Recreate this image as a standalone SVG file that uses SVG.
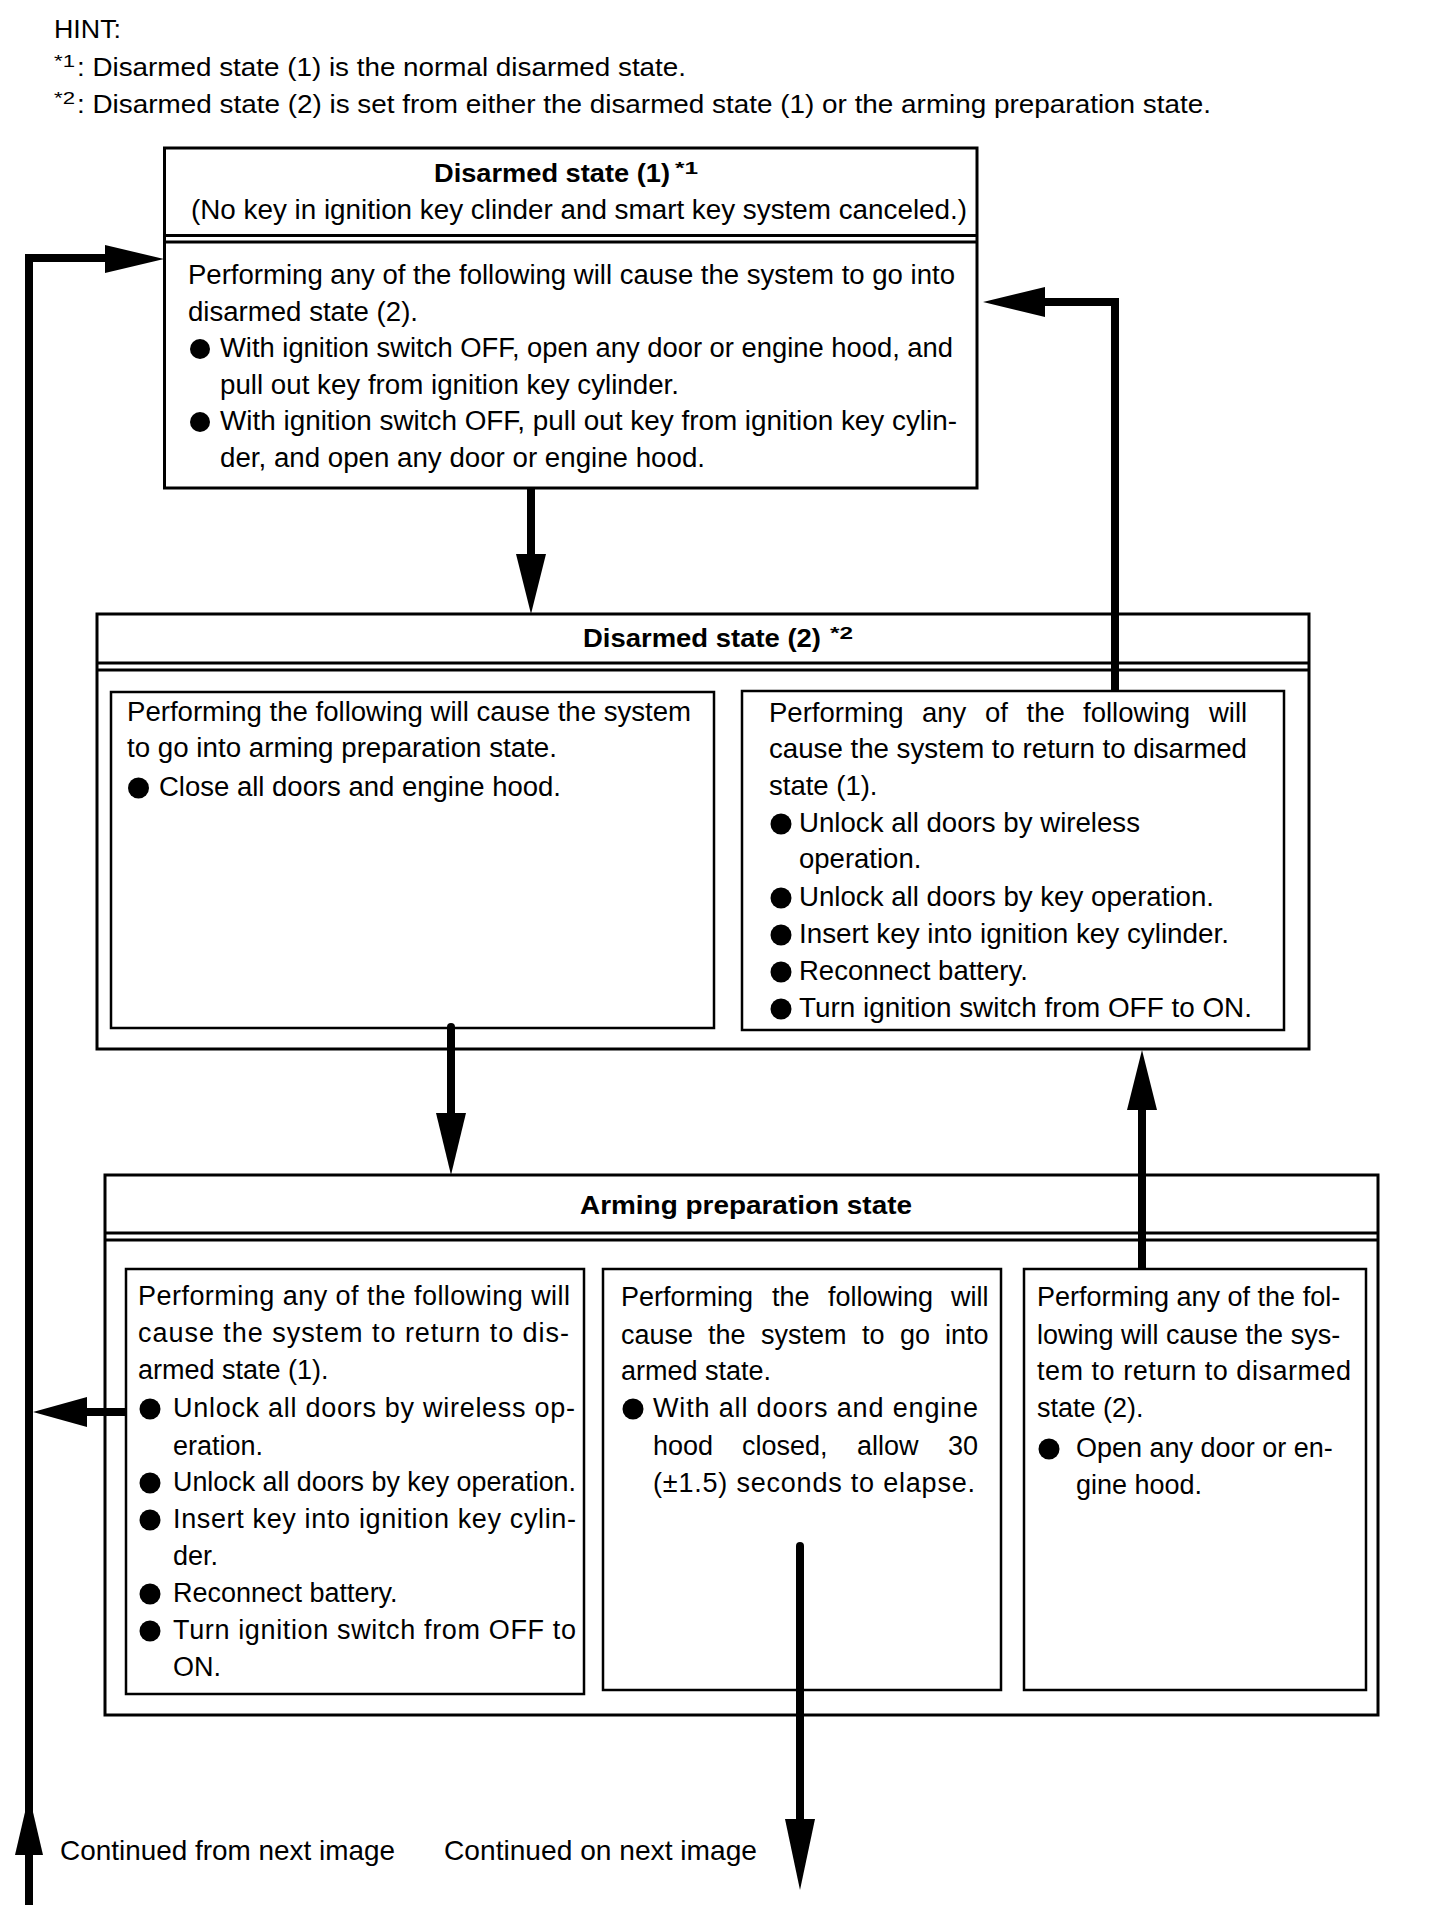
<svg xmlns="http://www.w3.org/2000/svg" width="1440" height="1928" viewBox="0 0 1440 1928">
<style>
text { font-family: "Liberation Sans", Arial, Helvetica, sans-serif; fill: #000; }
.t { font-size: 27px; }
.t2 { font-size: 27.5px; }
.h { font-size: 26px; }
.s { font-size: 17px; }
.ti { font-size: 26px; font-weight: bold; }
.ts { font-size: 16px; font-weight: bold; }
.c { font-size: 28px; }
.box { fill: none; stroke: #000; stroke-width: 3; }
.ib { fill: none; stroke: #000; stroke-width: 2.5; }
.dl { stroke: #000; stroke-width: 3; }
.ln { fill: none; stroke: #000; stroke-width: 8; stroke-linejoin: miter; }
.ah { fill: #000; stroke: none; }
.bu { fill: #000; }
</style>
<rect x="0" y="0" width="1440" height="1928" fill="#fff"/>

<g id="hint">
  <text class="h" x="54" y="38" textLength="67" lengthAdjust="spacingAndGlyphs">HINT:</text>
  <text class="s" x="54" y="67" textLength="21" lengthAdjust="spacingAndGlyphs">*1</text>
  <text class="h" x="77" y="76" textLength="609" lengthAdjust="spacingAndGlyphs">: Disarmed state (1) is the normal disarmed state.</text>
  <text class="s" x="54" y="104" textLength="21" lengthAdjust="spacingAndGlyphs">*2</text>
  <text class="h" x="77" y="113" textLength="1134" lengthAdjust="spacingAndGlyphs">: Disarmed state (2) is set from either the disarmed state (1) or the arming preparation state.</text>
</g>

<g id="disarmed1">
  <rect class="box" x="164.5" y="148" width="812.5" height="340"/>
  <text class="ti" x="434" y="182" textLength="236" lengthAdjust="spacingAndGlyphs">Disarmed state (1)</text>
  <text class="ts" x="675" y="174" textLength="23" lengthAdjust="spacingAndGlyphs">*1</text>
  <text class="t" x="191" y="219" textLength="776" lengthAdjust="spacingAndGlyphs">(No key in ignition key clinder and smart key system canceled.)</text>
  <line class="dl" x1="164.5" y1="235.5" x2="977" y2="235.5"/>
  <line class="dl" x1="164.5" y1="242" x2="977" y2="242"/>
  <text class="t" x="188" y="284" textLength="767" lengthAdjust="spacingAndGlyphs">Performing any of the following will cause the system to go into</text>
  <text class="t" x="188" y="321" textLength="230" lengthAdjust="spacingAndGlyphs">disarmed state (2).</text>
  <circle class="bu" cx="200" cy="349" r="10"/>
  <text class="t" x="220" y="357" textLength="733" lengthAdjust="spacingAndGlyphs">With ignition switch OFF, open any door or engine hood, and</text>
  <text class="t" x="220" y="394" textLength="459" lengthAdjust="spacingAndGlyphs">pull out key from ignition key cylinder.</text>
  <circle class="bu" cx="200" cy="422" r="10"/>
  <text class="t" x="220" y="430" textLength="737" lengthAdjust="spacingAndGlyphs">With ignition switch OFF, pull out key from ignition key cylin-</text>
  <text class="t" x="220" y="467" textLength="485" lengthAdjust="spacingAndGlyphs">der, and open any door or engine hood.</text>
</g>

<g id="disarmed2">
  <rect class="box" x="97" y="614" width="1212" height="435"/>
  <text class="ti" x="583" y="647" textLength="238" lengthAdjust="spacingAndGlyphs">Disarmed state (2)</text>
  <text class="ts" x="830" y="639" textLength="23" lengthAdjust="spacingAndGlyphs">*2</text>
  <line class="dl" x1="97" y1="663" x2="1309" y2="663"/>
  <line class="dl" x1="97" y1="670" x2="1309" y2="670"/>
</g>

<g id="disarmed2-left">
  <rect class="ib" x="111" y="692" width="603" height="336"/>
  <text class="t" x="127" y="721" textLength="564" lengthAdjust="spacingAndGlyphs">Performing the following will cause the system</text>
  <text class="t" x="127" y="757" textLength="430" lengthAdjust="spacingAndGlyphs">to go into arming preparation state.</text>
  <circle class="bu" cx="138.5" cy="788" r="10.5"/>
  <text class="t" x="159" y="796" textLength="402" lengthAdjust="spacingAndGlyphs">Close all doors and engine hood.</text>
</g>

<g id="disarmed2-right">
  <rect class="ib" x="742" y="691" width="542" height="339"/>
  <text class="t2" y="722"><tspan x="769">Performing</tspan><tspan x="922">any</tspan><tspan x="985">of</tspan><tspan x="1026.5">the</tspan><tspan x="1083">following</tspan><tspan x="1209">will</tspan></text>
  <text class="t2" x="769" y="758" textLength="478" lengthAdjust="spacingAndGlyphs">cause the system to return to disarmed</text>
  <text class="t2" x="769" y="795">state (1).</text>
  <circle class="bu" cx="781" cy="824" r="10.5"/>
  <text class="t2" x="799" y="832" textLength="341" lengthAdjust="spacingAndGlyphs">Unlock all doors by wireless</text>
  <text class="t2" x="799" y="868">operation.</text>
  <circle class="bu" cx="781" cy="898" r="10.5"/>
  <text class="t2" x="799" y="906" textLength="415" lengthAdjust="spacingAndGlyphs">Unlock all doors by key operation.</text>
  <circle class="bu" cx="781" cy="935" r="10.5"/>
  <text class="t2" x="799" y="943" textLength="430" lengthAdjust="spacingAndGlyphs">Insert key into ignition key cylinder.</text>
  <circle class="bu" cx="781" cy="972" r="10.5"/>
  <text class="t2" x="799" y="980">Reconnect battery.</text>
  <circle class="bu" cx="781" cy="1009" r="10.5"/>
  <text class="t2" x="799" y="1017" textLength="453" lengthAdjust="spacingAndGlyphs">Turn ignition switch from OFF to ON.</text>
</g>

<g id="arming">
  <rect class="box" x="105" y="1175" width="1273" height="540"/>
  <text class="ti" x="580" y="1214" textLength="332" lengthAdjust="spacingAndGlyphs">Arming preparation state</text>
  <line class="dl" x1="105" y1="1233" x2="1378" y2="1233"/>
  <line class="dl" x1="105" y1="1240" x2="1378" y2="1240"/>
</g>

<g id="arming-left">
  <rect class="ib" x="126" y="1269" width="458" height="425"/>
  <text class="t" x="138" y="1305" textLength="432" lengthAdjust="spacing">Performing any of the following will</text>
  <text class="t" x="138" y="1342" textLength="431" lengthAdjust="spacing">cause the system to return to dis-</text>
  <text class="t" x="138" y="1379">armed state (1).</text>
  <circle class="bu" cx="150" cy="1409" r="10.5"/>
  <text class="t" x="173" y="1417" textLength="402" lengthAdjust="spacing">Unlock all doors by wireless op-</text>
  <text class="t" x="173" y="1455">eration.</text>
  <circle class="bu" cx="150" cy="1483" r="10.5"/>
  <text class="t" x="173" y="1491" textLength="403" lengthAdjust="spacingAndGlyphs">Unlock all doors by key operation.</text>
  <circle class="bu" cx="150" cy="1520" r="10.5"/>
  <text class="t" x="173" y="1528" textLength="403" lengthAdjust="spacing">Insert key into ignition key cylin-</text>
  <text class="t" x="173" y="1565">der.</text>
  <circle class="bu" cx="150" cy="1594" r="10.5"/>
  <text class="t" x="173" y="1602">Reconnect battery.</text>
  <circle class="bu" cx="150" cy="1631" r="10.5"/>
  <text class="t" x="173" y="1639" textLength="403" lengthAdjust="spacing">Turn ignition switch from OFF to</text>
  <text class="t" x="173" y="1676">ON.</text>
</g>

<g id="arming-middle">
  <rect class="ib" x="603" y="1269" width="398" height="421"/>
  <text class="t" y="1306"><tspan x="621">Performing</tspan><tspan x="772">the</tspan><tspan x="828">following</tspan><tspan x="951">will</tspan></text>
  <text class="t" y="1344"><tspan x="621">cause</tspan><tspan x="708">the</tspan><tspan x="761">system</tspan><tspan x="862">to</tspan><tspan x="900">go</tspan><tspan x="945">into</tspan></text>
  <text class="t" x="621" y="1380">armed state.</text>
  <circle class="bu" cx="633" cy="1409" r="10.5"/>
  <text class="t" x="653" y="1417" textLength="325" lengthAdjust="spacing">With all doors and engine</text>
  <text class="t" y="1455"><tspan x="653">hood</tspan><tspan x="742">closed,</tspan><tspan x="857">allow</tspan><tspan x="948">30</tspan></text>
  <text class="t" x="653" y="1492" textLength="322" lengthAdjust="spacing">(±1.5) seconds to elapse.</text>
</g>

<g id="arming-right">
  <rect class="ib" x="1024" y="1269" width="342" height="421"/>
  <text class="t" x="1037" y="1306">Performing any of the fol-</text>
  <text class="t" x="1037" y="1344">lowing will cause the sys-</text>
  <text class="t" x="1037" y="1380" textLength="314" lengthAdjust="spacing">tem to return to disarmed</text>
  <text class="t" x="1037" y="1417">state (2).</text>
  <circle class="bu" cx="1049" cy="1449" r="10.5"/>
  <text class="t" x="1076" y="1457">Open any door or en-</text>
  <text class="t" x="1076" y="1494">gine hood.</text>
</g>

<g id="connectors">
  <line class="ln" x1="531" y1="488" x2="531" y2="557"/>
  <polygon class="ah" points="516,554 546,554 531,614"/>

  <line class="ln" x1="451" y1="1027" x2="451" y2="1116" stroke-linecap="round"/>
  <polygon class="ah" points="436,1113 466,1113 451,1175"/>

  <polyline class="ln" points="1115,690 1115,302 1042,302"/>
  <polygon class="ah" points="1045,287 1045,317 983,302"/>

  <line class="ln" x1="1142" y1="1269" x2="1142" y2="1107"/>
  <polygon class="ah" points="1127,1110 1157,1110 1142,1050"/>

  <line class="ln" x1="800" y1="1546" x2="800" y2="1822" stroke-linecap="round"/>
  <polygon class="ah" points="785,1819 815,1819 800,1890"/>

  <line class="ln" x1="126" y1="1412" x2="84" y2="1412"/>
  <polygon class="ah" points="87,1397 87,1427 33,1412"/>

  <polyline class="ln" points="29,1905 29,258 108,258"/>
  <polygon class="ah" points="105,245 105,273 164,259"/>
  <polygon class="ah" points="15,1855 43,1855 29,1795"/>
</g>

<g id="footer">
  <text class="c" x="60" y="1860" textLength="335" lengthAdjust="spacingAndGlyphs">Continued from next image</text>
  <text class="c" x="444" y="1860" textLength="313" lengthAdjust="spacingAndGlyphs">Continued on next image</text>
</g>
</svg>
